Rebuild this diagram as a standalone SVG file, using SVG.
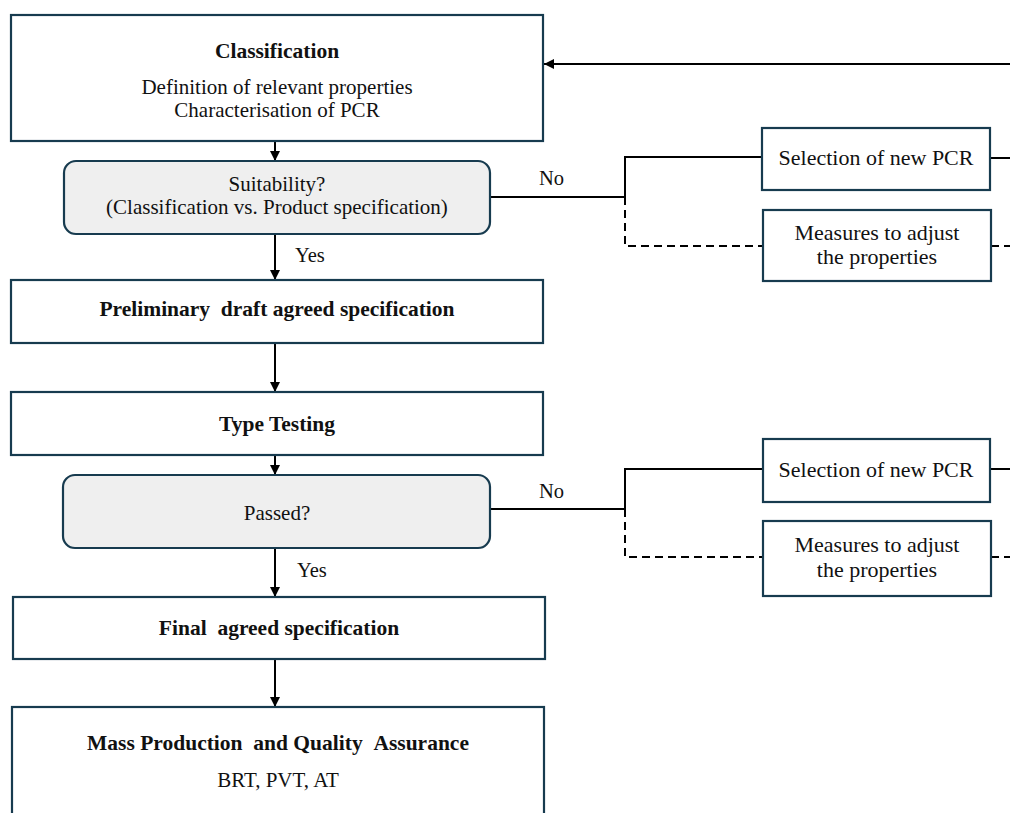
<svg xmlns="http://www.w3.org/2000/svg" width="1010" height="813" viewBox="0 0 1010 813">
<style>
.box{fill:#fff;stroke:#173b4f;stroke-width:2.2}
.dec{fill:#efefef;stroke:#173b4f;stroke-width:2.2}
.t{font-family:"Liberation Serif","Times New Roman",serif;font-size:21px;fill:#111;text-anchor:middle}
.r{font-size:22px}
.b{font-weight:bold;font-size:21.5px}
.l{font-family:"Liberation Serif","Times New Roman",serif;font-size:20.5px;fill:#111}
.c{fill:none;stroke:#000;stroke-width:2}
.d{fill:none;stroke:#000;stroke-width:2;stroke-dasharray:8 5}
</style>
<defs>
<marker id="ah" viewBox="0 0 10 10" refX="10" refY="5" markerWidth="10" markerHeight="10" markerUnits="userSpaceOnUse" orient="auto">
<path d="M0,0 L10,5 L0,10 z" fill="#000"/>
</marker>
</defs>
<rect width="1010" height="813" fill="#fff"/>
<g id="connectors">
<path class="c" d="M275,141 V161" marker-end="url(#ah)"/>
<path class="c" d="M275,234 V280" marker-end="url(#ah)"/>
<path class="c" d="M275,343 V392" marker-end="url(#ah)"/>
<path class="c" d="M275,455 V475" marker-end="url(#ah)"/>
<path class="c" d="M275,548 V597" marker-end="url(#ah)"/>
<path class="c" d="M275,659 V707" marker-end="url(#ah)"/>
<path class="c" d="M1010,64 H544" marker-end="url(#ah)"/>
<path class="c" d="M490,197 H625 V157 H762"/>
<path class="d" d="M625,197 V246 H763"/>
<path class="c" d="M990,158 H1010"/>
<path class="d" d="M991,246 H1010"/>
<path class="c" d="M490,509 H625 V469 H763"/>
<path class="d" d="M625,509 V557 H763"/>
<path class="c" d="M990,469 H1010"/>
<path class="d" d="M991,557 H1010"/>
<text class="l" x="539" y="185">No</text>
<text class="l" x="295" y="262">Yes</text>
<text class="l" x="539" y="498">No</text>
<text class="l" x="297" y="577">Yes</text>
</g>
<g id="classification">
<rect class="box" x="11" y="15" width="532" height="126"/>
<text class="t b" x="277" y="58">Classification</text>
<text class="t" x="277" y="94">Definition of relevant properties</text>
<text class="t" x="277" y="117">Characterisation of PCR</text>
</g>
<g id="suitability">
<rect class="dec" x="64" y="161" width="426" height="73" rx="12"/>
<text class="t" x="277" y="191">Suitability?</text>
<text class="t" x="277" y="214">(Classification vs. Product specification)</text>
</g>
<g id="preliminary">
<rect class="box" x="11" y="280" width="532" height="63"/>
<text class="t b" x="277" y="316">Preliminary &#160;draft agreed specification</text>
</g>
<g id="typetesting">
<rect class="box" x="11" y="392" width="532" height="63"/>
<text class="t b" x="277" y="431">Type Testing</text>
</g>
<g id="passed">
<rect class="dec" x="63" y="475" width="427" height="73" rx="12"/>
<text class="t" x="277" y="520">Passed?</text>
</g>
<g id="final">
<rect class="box" x="13" y="597" width="532" height="62"/>
<text class="t b" x="279" y="635">Final &#160;agreed specification</text>
</g>
<g id="mass">
<rect class="box" x="12" y="707" width="532" height="120"/>
<text class="t b" x="278" y="750">Mass Production &#160;and Quality &#160;Assurance</text>
<text class="t" x="278" y="787">BRT, PVT, AT</text>
</g>
<g id="selection1">
<rect class="box" x="762" y="128" width="228" height="62"/>
<text class="t r" x="876" y="165">Selection of new PCR</text>
</g>
<g id="measures1">
<rect class="box" x="763" y="210" width="228" height="71"/>
<text class="t r" x="877" y="240">Measures to adjust</text>
<text class="t r" x="877" y="264">the properties</text>
</g>
<g id="selection2">
<rect class="box" x="763" y="439" width="227" height="63"/>
<text class="t r" x="876" y="477">Selection of new PCR</text>
</g>
<g id="measures2">
<rect class="box" x="763" y="521" width="228" height="75"/>
<text class="t r" x="877" y="552">Measures to adjust</text>
<text class="t r" x="877" y="577">the properties</text>
</g>
</svg>
